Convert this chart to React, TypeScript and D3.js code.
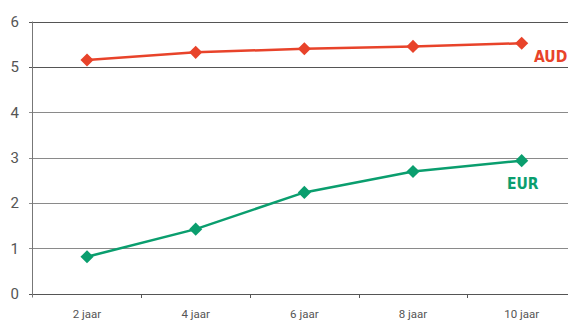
import React, { useEffect, useRef } from "react";
import * as d3 from "d3";

const categories = ["2 jaar", "4 jaar", "6 jaar", "8 jaar", "10 jaar"];
const audValues = [5.15, 5.32, 5.4, 5.45, 5.52];
const eurValues = [0.81, 1.42, 2.23, 2.69, 2.93];
const yTicks = [0, 1, 2, 3, 4, 5, 6];
const seriesNames = ["AUD", "EUR"];

const W = 568;
const H = 320;

export default function App() {
  const ref = useRef<SVGSVGElement>(null);
  useEffect(() => {
    const svg = d3.select(ref.current);
    svg.selectAll("*").remove();
    const x = d3.scalePoint<string>().domain(categories).range([32.7, 576]).padding(0.5);
    const y = d3.scaleLinear().domain([0, 6]).range([293.5, 21.5]);
    const step = x.step();

    const grid = svg.append("g");
    yTicks.forEach((t) => {
      grid.append("line")
        .attr("x1", 29).attr("x2", W)
        .attr("y1", Math.round(y(t)) + 0.5).attr("y2", Math.round(y(t)) + 0.5)
        .attr("stroke", t === 0 ? "#555" : t >= 5 ? "#555" : "#8a8a8a")
        .attr("stroke-width", 1);
      grid.append("text")
        .attr("x", 19).attr("y", y(t)).attr("dy", "0.36em")
        .attr("text-anchor", "end")
        .attr("font-family", "Roboto, sans-serif")
        .attr("font-size", 15)
        .attr("fill", "#555")
        .text(String(t));
    });
    grid.append("line")
      .attr("x1", 32.5).attr("x2", 32.5)
      .attr("y1", y(6)).attr("y2", y(0) + 4)
      .attr("stroke", "#777").attr("stroke-width", 1);

    categories.forEach((c) => {
      const bx = Math.round((x(c) as number) + step / 2) + 0.5;
      grid.append("line")
        .attr("x1", bx).attr("x2", bx)
        .attr("y1", Math.round(y(0))).attr("y2", Math.round(y(0)) + 4)
        .attr("stroke", "#555");
      grid.append("text")
        .attr("x", x(c) as number).attr("y", 317.5)
        .attr("text-anchor", "middle")
        .attr("font-family", "Roboto, sans-serif")
        .attr("font-size", 11.5)
        .attr("fill", "#555")
        .text(c);
    });

    const series = [
      { name: seriesNames[0], values: audValues, color: "#E8432A", lx: 534, ly: 62 },
      { name: seriesNames[1], values: eurValues, color: "#0A9E6E", lx: 507, ly: 189 },
    ];
    const line = d3.line<number>()
      .x((_, i) => x(categories[i]) as number)
      .y((d) => y(d));
    const diamond = d3.symbol().type(d3.symbolDiamond2).size(110);
    series.forEach((s) => {
      svg.append("path")
        .attr("d", line(s.values) || "")
        .attr("fill", "none")
        .attr("stroke", s.color)
        .attr("stroke-width", 2.5);
      s.values.forEach((v, i) => {
        svg.append("path")
          .attr("d", diamond() || "")
          .attr("transform", `translate(${x(categories[i])},${y(v)})`)
          .attr("fill", s.color);
      });
      svg.append("text")
        .attr("x", s.lx).attr("y", s.ly)
        .attr("font-family", "'DejaVu Sans Condensed', 'DejaVu Sans', sans-serif")
        .attr("font-stretch", "condensed")
        .attr("font-weight", "bold")
        .attr("font-size", 15.5)
        .attr("fill", s.color)
        .text(s.name);
    });
  }, []);
  return (
    <svg
      ref={ref}
      width={W}
      height={H}
      style={{ position: "absolute", left: 0, top: 0, background: "#fff" }}
    />
  );
}
